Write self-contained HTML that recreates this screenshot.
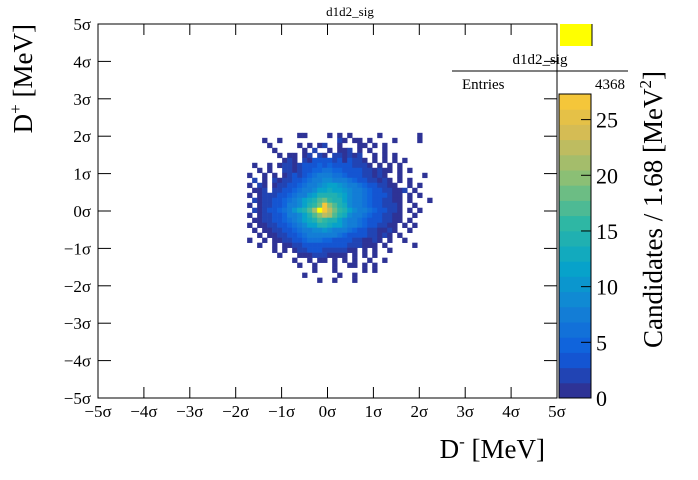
<!DOCTYPE html>
<html><head><meta charset="utf-8"><style>
body{margin:0;background:#fff}
svg text{font-family:"Liberation Serif",serif;fill:#000}
</style></head><body>
<svg width="698" height="475" xmlns="http://www.w3.org/2000/svg">
<g id="cells"></g>
<rect x="98" y="24" width="459" height="374" fill="none" stroke="#000" stroke-width="1"/>
<g id="axes"></g>
<text x="350" y="16" font-size="13" text-anchor="middle">d1d2_sig</text>
<rect x="560" y="24" width="32" height="22" fill="#ffff00"/>
<line x1="592" y1="24" x2="592" y2="46" stroke="#000"/>
<g>
<text x="540" y="64" font-size="15" text-anchor="middle">d1d2_sig</text>
<line x1="452" y1="71" x2="628" y2="71" stroke="#000"/>
<text x="462" y="89" font-size="15">Entries</text>
<text x="625" y="89" font-size="15" text-anchor="end">4368</text>
</g>
<g id="cbar"></g>
<text x="545" y="458" font-size="27" text-anchor="end">D<tspan font-size="17" dy="-11">-</tspan><tspan dy="11"> [MeV]</tspan></text>
<text transform="translate(32,24) rotate(-90)" font-size="27" text-anchor="end">D<tspan font-size="17" dy="-11">+</tspan><tspan dy="11"> [MeV]</tspan></text>
<text transform="translate(662,348) rotate(-90)" font-size="27" text-anchor="start">Candidates / 1.68 [MeV<tspan font-size="17" dy="-11">2</tspan><tspan dy="11">]</tspan></text>
</svg>
<script>
const xTicks=[-5,-4,-3,-2,-1,0,1,2,3,4,5];
const yTicks=[-5,-4,-3,-2,-1,0,1,2,3,4,5];
const zTicks=[0,5,10,15,20,25];
const zMax=27.3;
const gridX0=-1.86, gridY0=2.09, binW=0.109, binH=0.1335;
const rows=[
"...........11....1.1.1.....1.......1..",
"....1..1...........21.11.1....1....1..",
".....1.....1.1.12..1...11.1.1.........",
"......1.....1.2..1.112.1.1..1.........",
".......1.11.12.21.221212..1.1.1.......",
"........121.2133432313221.1.1.1.1.....",
"..1..1.1221234354543432221.1.1.1......",
"...1.1..2212345566554433221211.1.1....",
".1..1.1.123245677766544322121..1....1.",
"..2.1.212234567899877654322121.1.1....",
".1.21.1223456789abba98765432211..1.1..",
"..112.223456789bcdcba987654322112.1...",
".1.1222345678acefeedb98765433211.1.1..",
"..2122345679bdfhigfec98765432211.1...1",
".1.122345789cegjrkhfd98765432221..1...",
"..21234568adfhlsqmjgeb9876543221.1.1..",
".1.122345789cehkmlhfd98765432211..1...",
"..1122345679bdfhgfec987654332211.1....",
".1.1122345689bceedcb98765432211.1.1...",
"..1.112234567899a98876543221121..1....",
"...1.1122345678887765443322121.1......",
".1..1.1122345666554433221121.1..1.....",
"...1..1.1122344443333222111.1.....1...",
"......1.1.1223332222211.1.1..1........",
".......1...1112221111.1.1.1...........",
"..........1..1.11.1.1.1..1..1.........",
"...........1..1...1..11.1.1...........",
"..............1...1.....1.1...........",
"............1......1..1...............",
"...............1..1...1..............."];
const X0=98,X1=557,Y0=398,Y1=24;
const sx=v=>X0+(v+5)/10*(X1-X0);
const sy=v=>Y0-(v+5)/10*(Y0-Y1);
const zy=v=>398-v/zMax*(398-94);
const stops=[[0.2082,0.1664,0.5293],[0.0592,0.3599,0.8684],[0.0780,0.5041,0.8385],[0.0232,0.6419,0.7914],[0.1802,0.7178,0.6425],[0.5301,0.7492,0.4662],[0.8186,0.7328,0.3446],[0.9956,0.7862,0.1968],[0.9764,0.9832,0.0539]];
function col(t){if(t>1)return"#ffff00";t=Math.max(0,t)*0.87;const p=t*(stops.length-1),i=Math.min(Math.floor(p),stops.length-2),f=p-i;
const c=stops[i].map((a,k)=>Math.round(255*(a+(stops[i+1][k]-a)*f)));return`rgb(${c})`;}
const NS="http://www.w3.org/2000/svg";
function mk(tag,at,parent){const e=document.createElementNS(NS,tag);for(const k in at)e.setAttribute(k,at[k]);parent.appendChild(e);return e;}
const cells=document.getElementById('cells');
rows.forEach((r,ri)=>{[...r].forEach((ch,ci)=>{if(ch==='.')return;const v=parseInt(ch,36);
const x=sx(gridX0+ci*binW),y=sy(gridY0-ri*binH);
const band=Math.floor(v/zMax*20)/20;
const e=mk('rect',{x:x.toFixed(2),y:y.toFixed(2),width:(sx(binW)-sx(0)+0.3).toFixed(2),height:(sy(0)-sy(binH)+0.3).toFixed(2),fill:col(v>zMax?2:band+0.025)},cells);

});});
const ax=document.getElementById('axes');
const lab=v=>(v<0?"\u2212"+(-v):v)+"\u03c3";
xTicks.forEach(v=>{const x=sx(v);mk('line',{x1:x,x2:x,y1:398,y2:387,stroke:'#000'},ax);mk('line',{x1:x,x2:x,y1:24,y2:35,stroke:'#000'},ax);
const t=mk('text',{x:x,y:417,'font-size':17,'text-anchor':'middle'},ax);t.textContent=lab(v);

});
yTicks.forEach(v=>{const y=sy(v);mk('line',{x1:98,x2:111,y1:y,y2:y,stroke:'#000'},ax);mk('line',{x1:557,x2:544,y1:y,y2:y,stroke:'#000'},ax);
const t=mk('text',{x:91,y:y+6,'font-size':17,'text-anchor':'end'},ax);t.textContent=lab(v);

});
const cb=document.getElementById('cbar');
for(let i=0;i<20;i++){const a=i/20*zMax,b=(i+1)/20*zMax;
const e=mk('rect',{x:559,y:zy(b),width:32,height:zy(a)-zy(b)+0.5,fill:col((i+0.5)/20)},cb);

}
mk('rect',{x:559,y:94,width:32,height:304,fill:'none',stroke:'#000'},cb);
zTicks.forEach(v=>{const y=zy(v);mk('line',{x1:591,x2:581,y1:y,y2:y,stroke:'#000'},cb);
const t=mk('text',{x:596,y:y+8,'font-size':22},cb);t.textContent=v;

});
</script>
</body></html>
